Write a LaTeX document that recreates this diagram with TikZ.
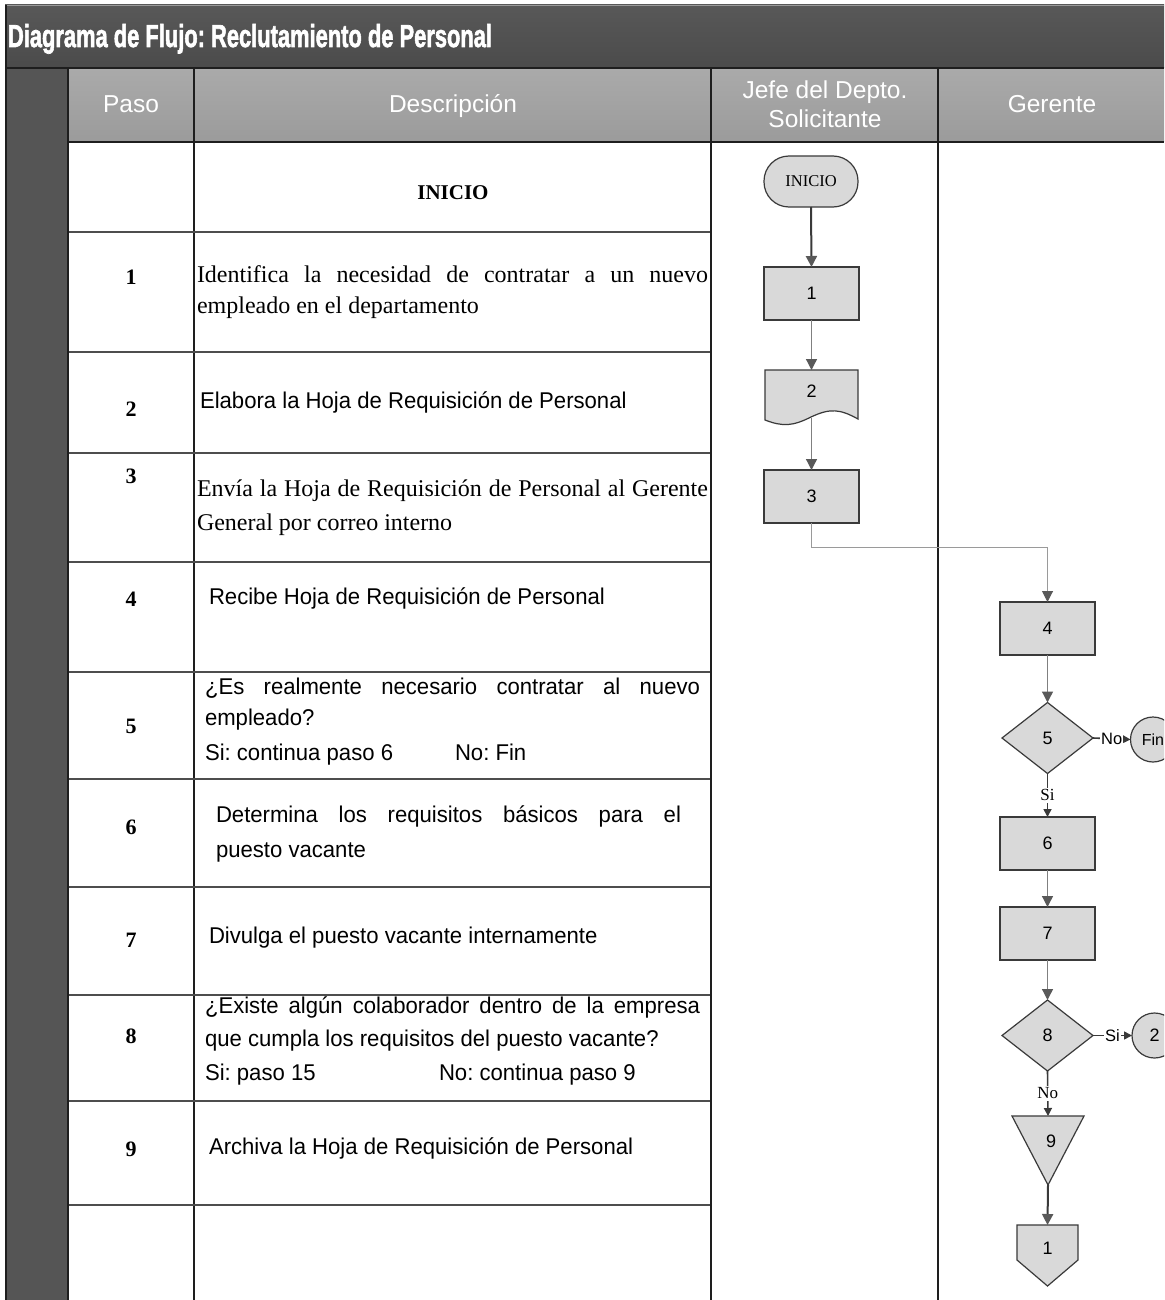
\documentclass[tikz,border=0pt]{standalone}
\usepackage{fontspec}
\usepackage{graphicx}
\setmainfont{Liberation Sans}
\newfontfamily\descsans[FakeStretch=0.97]{Liberation Sans}
\newfontfamily\plainserif{Liberation Serif}
\newfontfamily\titlefont[FakeBold=2.2]{Liberation Sans Bold}
\usetikzlibrary{arrows.meta,shapes.geometric,calc}

\definecolor{barTop}{HTML}{585858}
\definecolor{barBot}{HTML}{4B4B4B}
\definecolor{headTop}{HTML}{AAAAAA}
\definecolor{headBot}{HTML}{9B9B9B}
\definecolor{sideCol}{HTML}{555555}
\definecolor{shapeFill}{HTML}{D9D9D9}
\definecolor{shapeLine}{HTML}{3A3A3A}
\definecolor{rowRule}{HTML}{4D4D4D}
\definecolor{flowLine}{HTML}{808080}
\definecolor{tipGray}{HTML}{595959}
\definecolor{thinLine}{HTML}{9A9A9A}
\definecolor{laneLine}{HTML}{1E1E1E}

\frenchspacing
\begin{document}
\begin{tikzpicture}[x=1pt,y=-1pt,
  every node/.style={inner sep=0pt,outer sep=0pt},
  headtxt/.style={text=white,font=\fontsize{24.5}{29}\selectfont,align=center},
  stepnum/.style={font=\plainserif\bfseries\fontsize{22}{26}\selectfont},
  sanstxt/.style={anchor=west,font=\descsans\fontsize{22.8}{27}\selectfont,text height=16pt,text depth=5pt},
  seriftxt/.style={anchor=west,font=\plainserif\fontsize{24}{28}\selectfont,text height=16pt,text depth=5pt},
  shapestyle/.style={draw=shapeLine,line width=1.2pt,fill=shapeFill},
  procbox/.style={shapestyle,minimum width=95pt,minimum height=53pt,font=\fontsize{18}{21}\selectfont},
  decision/.style={shapestyle,diamond,aspect=1.3,minimum width=91pt,minimum height=71pt,font=\fontsize{18}{21}\selectfont},
  connector/.style={shapestyle,circle,minimum size=45pt,font=\fontsize{18}{21}\selectfont},
  flowtxt/.style={font=\fontsize{18}{21}\selectfont},
  darkarrow/.style={draw=shapeLine,line width=2pt,-{Triangle[width=11pt,length=11pt,color=tipGray]}},
  grayarrow/.style={draw=flowLine,line width=1.3pt,-{Triangle[width=11pt,length=11pt,color=tipGray]}},
  thinarrow/.style={draw=thinLine,line width=1pt,-{Triangle[width=11pt,length=11pt,color=tipGray]}},
  branch/.style={draw=shapeLine,line width=1.6pt,-{Triangle[width=8pt,length=8pt,color=shapeLine]}},
  lblsans/.style={fill=white,inner xsep=1pt,inner ysep=2pt,font=\fontsize{16.5}{19}\selectfont},
  lblserif/.style={fill=white,inner xsep=1pt,inner ysep=2pt,font=\plainserif\fontsize{17}{19}\selectfont}
]
\useasboundingbox (0,0) rectangle (1164,1300);
\clip (0,0) rectangle (1164,1300);
\fill[white] (0,0) rectangle (1164,1300);

% ---------- frame: title bar, side column, header row ----------
\shade[top color=barTop,bottom color=barBot] (5,5) rectangle (1164,68);
\draw[thinLine,line width=1.2pt] (5,5.6) -- (1164,5.6);
\fill[sideCol] (5,68) rectangle (68,1300);
\shade[top color=headTop,bottom color=headBot] (68,68) rectangle (1164,142);
\draw[laneLine,line width=2pt] (6,5) -- (6,1300);
\draw[laneLine,line width=2pt] (5,68) -- (1164,68);
\draw[laneLine,line width=2pt] (68,142) -- (1164,142);
\foreach \xx in {68,194,711,938}
  \draw[laneLine,line width=2pt] (\xx,68) -- (\xx,1300);
\foreach \yy in {232,352,453,562,672,779,887,995,1101,1205}
  \draw[rowRule,line width=2.2pt] (69,\yy) -- (710,\yy);

\node[anchor=base west,text=white] (title) at (8,47)
  {\resizebox{484pt}{23pt}{\titlefont Diagrama de Flujo: Reclutamiento de Personal}};

\node[headtxt,anchor=base] (hPaso) at (131,113) {Paso};
\node[headtxt,anchor=base] (hDesc) at (453,113) {Descripción};
\node[headtxt] (hJefe) at (825,104.5) {Jefe del Depto.\\Solicitante};
\node[headtxt,anchor=base] (hGer) at (1052,113) {Gerente};

% ---------- step numbers ----------
\node[stepnum] (p1) at (131,277) {1};
\node[stepnum] (p2) at (131,409) {2};
\node[stepnum] (p3) at (131,476) {3};
\node[stepnum] (p4) at (131,599) {4};
\node[stepnum] (p5) at (131,726) {5};
\node[stepnum] (p6) at (131,827) {6};
\node[stepnum] (p7) at (131,940) {7};
\node[stepnum] (p8) at (131,1036) {8};
\node[stepnum] (p9) at (131,1149) {9};

% ---------- descriptions ----------
\node[font=\plainserif\bfseries\fontsize{21}{24}\selectfont] (dIni) at (453,193) {INICIO};
\node[seriftxt] (d1a) at (197,277) {\makebox[511pt][s]{Identifica la necesidad de contratar a un nuevo}};
\node[seriftxt] (d1b) at (197,308) {empleado en el departamento};
\node[sanstxt] (d2) at (200,403) {Elabora la Hoja de Requisición de Personal};
\node[seriftxt] (d3a) at (197,491) {\makebox[511pt][s]{Envía la Hoja de Requisición de Personal al Gerente}};
\node[seriftxt] (d3b) at (197,525) {General por correo interno};
\node[sanstxt] (d4) at (209,599) {Recibe Hoja de Requisición de Personal};
\node[sanstxt] (d5a) at (205,689) {\makebox[495pt][s]{¿Es realmente necesario contratar al nuevo}};
\node[sanstxt] (d5b) at (205,720) {empleado?};
\node[sanstxt] (d5c) at (205,755) {Si: continua paso 6};
\node[sanstxt] (d5d) at (455,755) {No: Fin};
\node[sanstxt] (d6a) at (216,817) {\makebox[465pt][s]{Determina los requisitos básicos para el}};
\node[sanstxt] (d6b) at (216,852) {puesto vacante};
\node[sanstxt] (d7) at (209,938) {Divulga el puesto vacante internamente};
\node[sanstxt] (d8a) at (205,1007.5) {\makebox[495pt][s]{¿Existe algún colaborador dentro de la empresa}};
\node[sanstxt] (d8b) at (205,1041) {que cumpla los requisitos del puesto vacante?};
\node[sanstxt] (d8c) at (205,1075) {Si: paso 15};
\node[sanstxt] (d8d) at (439,1075) {No: continua paso 9};
\node[sanstxt] (d9) at (209,1149) {Archiva la Hoja de Requisición de Personal};

% ---------- flowchart: Jefe del Depto. Solicitante ----------
\node[shapestyle,rounded corners=25pt,minimum width=94pt,minimum height=51pt,
      font=\plainserif\fontsize{16.5}{19}\selectfont] (ini) at (811,181.5) {INICIO};
\node[procbox] (b1) at (811.5,293.5) {1};
\node[minimum width=93pt,minimum height=50pt] (n2) at (811.5,395) {};
\draw[shapestyle] (n2.north west) -- (n2.north east) -- (858,419)
  .. controls (840,409) and (830,408) .. (811,417)
  .. controls (793,426) and (783,427) .. (765,420) -- cycle;
\node[flowtxt] (t2) at (811.5,391) {2};
\node[procbox] (b3) at (811.5,496.5) {3};

% ---------- flowchart: Gerente ----------
\node[procbox] (b4) at (1047.5,628.5) {4};
\node[decision] (d5) at (1047.5,738) {5};
\node[connector,font=\fontsize{16}{19}\selectfont] (fin) at (1153,739.5) {Fin};
\node[procbox] (b6) at (1047.5,843.5) {6};
\node[procbox] (b7) at (1047.5,933.5) {7};
\node[decision] (d8) at (1047.5,1035.5) {8};
\node[connector] (c2) at (1154.5,1035.5) {2};
\node[minimum width=72pt,minimum height=69pt] (n9) at (1048,1150.5) {};
\draw[shapestyle] (n9.north west) -- (n9.north east) -- (n9.south) -- cycle;
\node[flowtxt] (t9) at (1051,1141) {9};
\node[minimum width=61pt,minimum height=61pt] (off) at (1047.5,1255.5) {};
\draw[shapestyle] (off.north west) -- (off.north east) -- ($(off.south east)+(0,-26)$)
  -- (off.south) -- ($(off.south west)+(0,-26)$) -- cycle;
\node[flowtxt] (toff) at (1047.5,1248) {1};

% ---------- connectors ----------
\draw[darkarrow] (ini.south) -- (b1.north);
\draw[grayarrow] (b1.south) -- (n2.north);
\draw[grayarrow] ($(n2.south)+(0,-2)$) -- (b3.north);
\draw[thinarrow] (b3.south) -- ++(0,24) -| (b4.north);
\draw[grayarrow] (b4.south) -- (d5.north);
\draw[branch] (d5.east) -- node[lblsans] (l5no) {No} (fin.west);
\draw[branch] (d5.south) -- node[lblserif] (l5si) {Si} (b6.north);
\draw[grayarrow] (b6.south) -- (b7.north);
\draw[grayarrow] (b7.south) -- (d8.north);
\draw[branch] (d8.east) -- node[lblsans] (l8si) {Si} (c2.west);
\draw[branch] (d8.south) -- node[lblserif] (l8no) {No} (n9.north);
\draw[darkarrow] (n9.south) -- (off.north);
\end{tikzpicture}
\end{document}
